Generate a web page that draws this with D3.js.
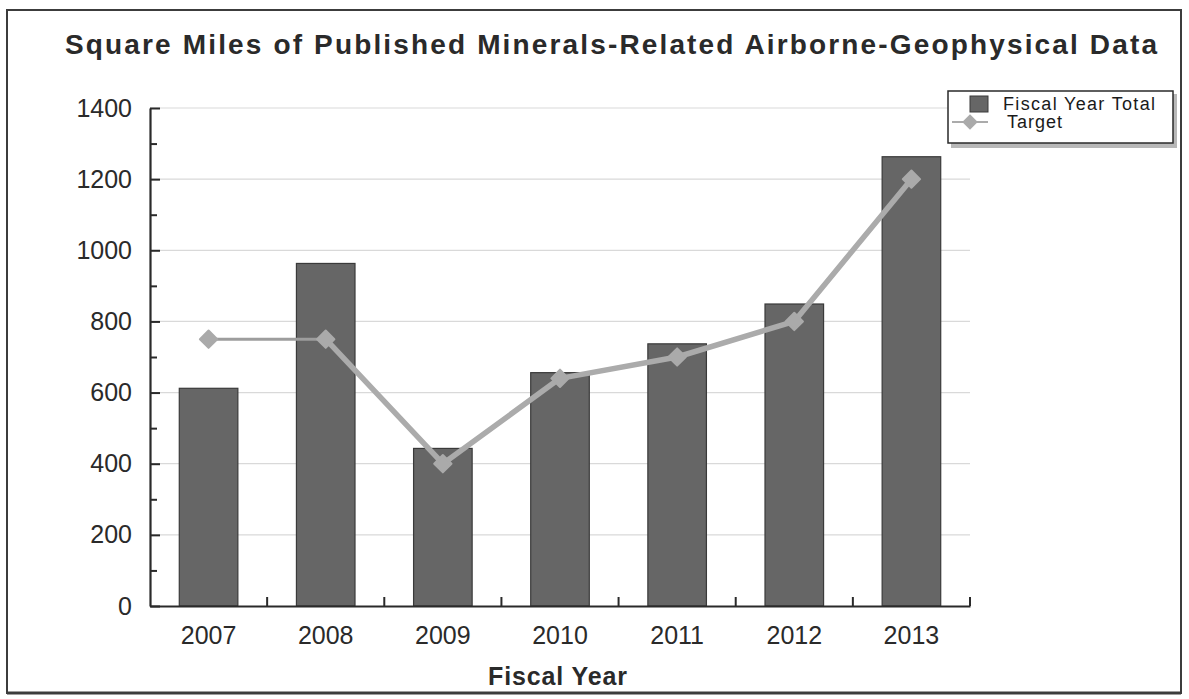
<!DOCTYPE html>
<html>
<head>
<meta charset="utf-8">
<script src="https://cdn.jsdelivr.net/npm/d3@7"></script>
<style>
  html, body { margin: 0; padding: 0; background: #fff; }
  svg { display: block; font-family: "Liberation Sans", Arial, sans-serif; }
</style>
</head>
<body>
<svg id="chart" width="1189" height="699"></svg>
<script>
// Fiscal years and the two series plotted against them
const years = ["2007", "2008", "2009", "2010", "2011", "2012", "2013"];
const fiscalYearTotal = [612, 963, 443, 656, 737, 849, 1263];
const target = [750, 750, 400, 640, 700, 800, 1200];
const yMajorTicks = [0, 200, 400, 600, 800, 1000, 1200, 1400];
const yMinorTicks = [100, 300, 500, 700, 900, 1100, 1300];

const svg = d3.select("#chart");
const plot = { left: 150, right: 970, top: 108, bottom: 606 };

const x = d3.scaleBand()
  .domain(years)
  .range([plot.left, plot.right])
  .paddingInner(0.5)
  .paddingOuter(0.25);
const y = d3.scaleLinear().domain([0, 1400]).range([plot.bottom, plot.top]);

// outer frame
svg.append("rect")
  .attr("x", 7).attr("y", 10).attr("width", 1174).attr("height", 683)
  .attr("fill", "none").attr("stroke", "#3c3c3c").attr("stroke-width", 2);
svg.append("line")
  .attr("x1", 7).attr("x2", 1181).attr("y1", 693).attr("y2", 693)
  .attr("stroke", "#3c3c3c").attr("stroke-width", 3);

// title
svg.append("text")
  .attr("x", 65).attr("y", 54)
  .attr("textLength", 1092).attr("lengthAdjust", "spacing")
  .attr("font-size", 28).attr("font-weight", "bold").attr("fill", "#2a2a2a")
  .text("Square Miles of Published Minerals-Related Airborne-Geophysical Data");

// horizontal gridlines
svg.append("g").selectAll("line")
  .data(yMajorTicks.filter(d => d > 0))
  .join("line")
  .attr("x1", plot.left).attr("x2", plot.right)
  .attr("y1", d => y(d)).attr("y2", d => y(d))
  .attr("stroke", "#d9d9d9").attr("stroke-width", 1.2);

// bars
svg.append("g").selectAll("rect")
  .data(years)
  .join("rect")
  .attr("x", d => x(d))
  .attr("y", (d, i) => y(fiscalYearTotal[i]))
  .attr("width", x.bandwidth())
  .attr("height", (d, i) => y(0) - y(fiscalYearTotal[i]))
  .attr("fill", "#666666")
  .attr("stroke", "#3a3a3a").attr("stroke-width", 1.2);

// y axis: major ticks with labels, minor ticks without
const yAxis = svg.append("g")
  .attr("transform", `translate(${plot.left},0)`)
  .call(d3.axisLeft(y).tickValues(yMajorTicks).tickFormat(d3.format("d"))
    .tickSize(-10).tickSizeOuter(0).tickPadding(18));
yAxis.select(".domain").attr("stroke", "#2a2a2a").attr("stroke-width", 2.2);
yAxis.selectAll(".tick line").attr("stroke", "#2a2a2a").attr("stroke-width", 2);
yAxis.selectAll(".tick text")
  .attr("font-size", 25).attr("fill", "#2a2a2a")
  .attr("font-family", "'Liberation Sans', Arial, sans-serif");

const yMinor = svg.append("g")
  .attr("transform", `translate(${plot.left},0)`)
  .call(d3.axisLeft(y).tickValues(yMinorTicks).tickSize(-7).tickSizeOuter(0).tickFormat(""));
yMinor.select(".domain").remove();
yMinor.selectAll(".tick line").attr("stroke", "#2a2a2a").attr("stroke-width", 2);

// x axis
const step = x.step();
const xAxis = svg.append("g")
  .attr("transform", `translate(0,${plot.bottom})`)
  .call(d3.axisBottom(x).tickSize(0).tickSizeOuter(0).tickPadding(20));
xAxis.select(".domain").attr("stroke", "#2a2a2a").attr("stroke-width", 2);
xAxis.selectAll(".tick text")
  .attr("font-size", 25).attr("fill", "#2a2a2a")
  .attr("font-family", "'Liberation Sans', Arial, sans-serif");
// category separators on the x axis
svg.append("g").selectAll("line")
  .data(years)
  .join("line")
  .attr("x1", d => x(d) + x.bandwidth() / 2 + step / 2)
  .attr("x2", d => x(d) + x.bandwidth() / 2 + step / 2)
  .attr("y1", plot.bottom).attr("y2", plot.bottom - 9)
  .attr("stroke", "#2a2a2a").attr("stroke-width", 2);

svg.append("text")
  .attr("x", 488).attr("y", 685)
  .attr("textLength", 139).attr("lengthAdjust", "spacing")
  .attr("font-size", 25).attr("font-weight", "bold").attr("fill", "#2a2a2a")
  .text("Fiscal Year");

// target line: first segment is drawn lighter than the rest
const cx = d => x(d) + x.bandwidth() / 2;
const pts = years.map((d, i) => [cx(d), y(target[i])]);
const diamond = d3.symbol(d3.symbolSquare, 150);
svg.append("line")
  .attr("x1", pts[0][0]).attr("y1", pts[0][1])
  .attr("x2", pts[1][0]).attr("y2", pts[1][1])
  .attr("stroke", "#9d9d9d").attr("stroke-width", 3);
svg.append("path")
  .datum(pts.slice(1))
  .attr("d", d3.line())
  .attr("fill", "none")
  .attr("stroke", "#ababab").attr("stroke-width", 5.5)
  .attr("stroke-linejoin", "round");
svg.append("g").selectAll("path")
  .data(pts)
  .join("path")
  .attr("transform", d => `translate(${d[0]},${d[1]}) rotate(45)`)
  .attr("d", diamond)
  .attr("fill", "#aaaaaa")
  .attr("stroke", "#aaaaaa").attr("stroke-width", 2).attr("stroke-linejoin", "round");

// legend
const lg = svg.append("g");
lg.append("rect")
  .attr("x", 951).attr("y", 94).attr("width", 226).attr("height", 54)
  .attr("fill", "#b8b8b8");
lg.append("rect")
  .attr("x", 948).attr("y", 91).attr("width", 225).attr("height", 52)
  .attr("fill", "#fff").attr("stroke", "#2a2a2a").attr("stroke-width", 1.5);
lg.append("rect")
  .attr("x", 970).attr("y", 96).attr("width", 18).attr("height", 16)
  .attr("fill", "#666666").attr("stroke", "#3a3a3a");
lg.append("line")
  .attr("x1", 952).attr("x2", 988).attr("y1", 122).attr("y2", 122)
  .attr("stroke", "#ababab").attr("stroke-width", 2);
lg.append("path")
  .attr("transform", "translate(970,122) rotate(45)")
  .attr("d", d3.symbol(d3.symbolSquare, 120))
  .attr("fill", "#aaaaaa");
lg.append("text")
  .attr("x", 1003).attr("y", 110)
  .attr("textLength", 152).attr("lengthAdjust", "spacing")
  .attr("font-size", 18).attr("fill", "#1a1a1a")
  .text("Fiscal Year Total");
lg.append("text")
  .attr("x", 1007).attr("y", 128)
  .attr("textLength", 55).attr("lengthAdjust", "spacing")
  .attr("font-size", 18).attr("fill", "#1a1a1a")
  .text("Target");
</script>
</body>
</html>
